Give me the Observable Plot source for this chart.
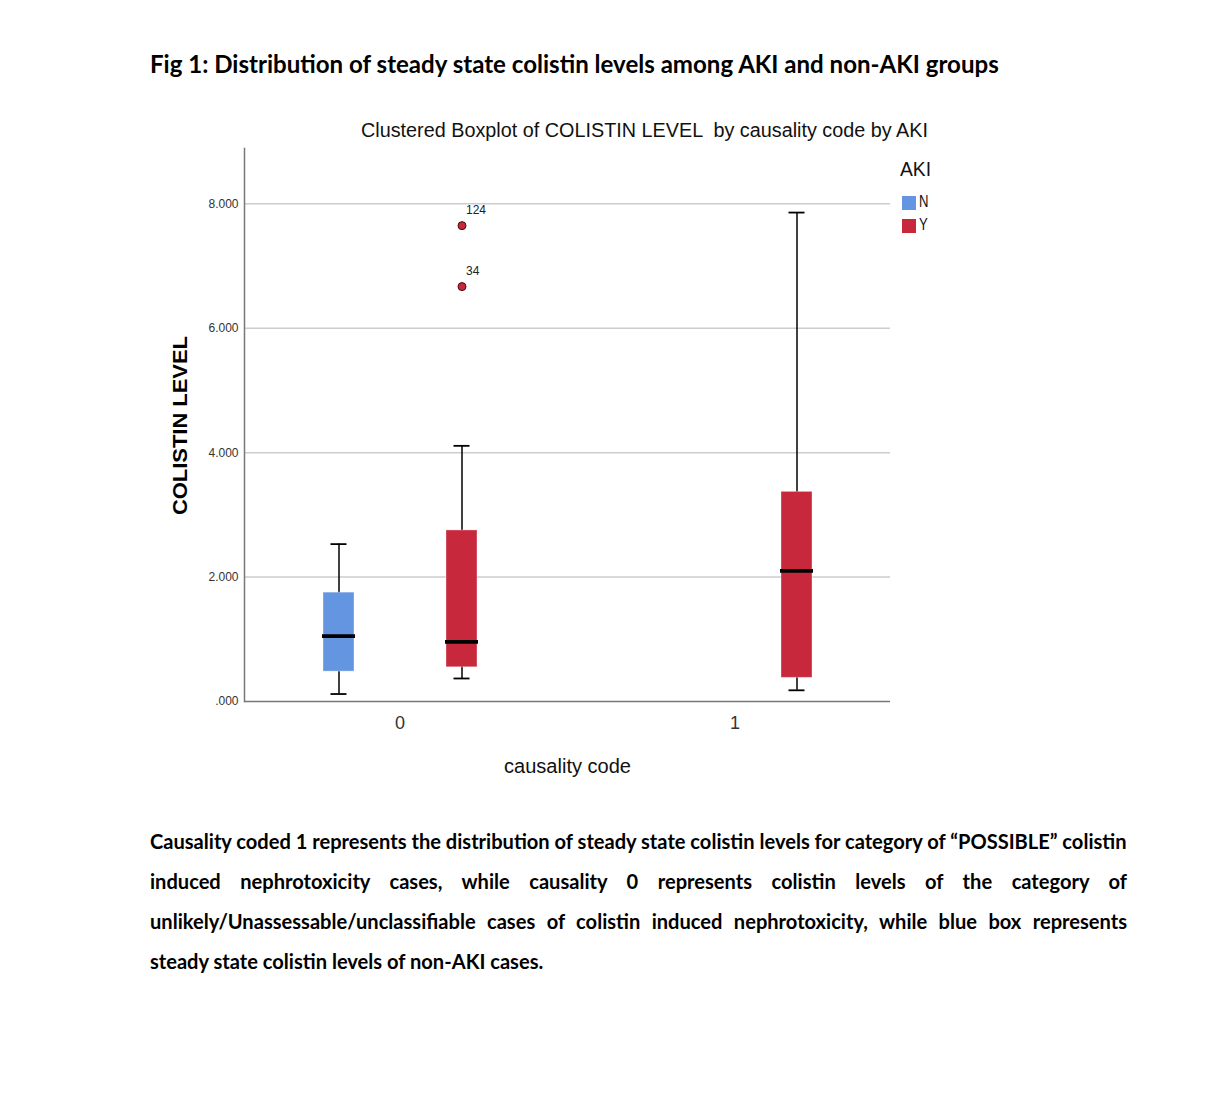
<!DOCTYPE html>
<html><head><meta charset="utf-8">
<script src="https://cdn.jsdelivr.net/npm/d3@7"></script>
<script src="https://cdn.jsdelivr.net/npm/@observablehq/plot@0.6"></script>
<style>
body{margin:0;background:#fff;}
#page{position:relative;width:1219px;height:1103px;overflow:hidden;background:#fff;}
.abs{position:absolute;white-space:pre;line-height:1;color:#000;}
.narrow{font-family:"Liberation Sans",Arial,sans-serif;color:#111;}
.cal{font-family:Lato,"Open Sans",sans-serif;font-weight:700;}
.arialb{font-family:"Liberation Sans",Arial,sans-serif;font-weight:700;}
.sw{position:absolute;width:14px;height:14px;}
#chart{position:absolute;left:0;top:100px;}
</style></head><body><div id="page">
<div id="fig" class="abs cal" style="font-size:22px">Fig 1: Distribution of steady state colistin levels among AKI and non-AKI groups</div>
<div id="ctitle" class="abs narrow" style="font-size:20px">Clustered Boxplot of COLISTIN LEVEL  by causality code by AKI</div>
<div id="xlab" class="abs narrow" style="font-size:20px">causality code</div>
<div id="ylab" class="abs arialb" style="font-size:21px">COLISTIN LEVEL</div>
<div id="legT" class="abs narrow" style="font-size:21px">AKI</div>
<div id="legN" class="abs narrow" style="font-size:16px">N</div>
<div id="legY" class="abs narrow" style="font-size:16px">Y</div>
<div id="swN" class="sw" style="left:902px;top:196px"></div>
<div id="swY" class="sw" style="left:902px;top:219px"></div>
<div id="chart"></div>
<div id="cap1" class="abs cal" style="font-size:19px">Causality coded 1 represents the distribution of steady state colistin levels for category of “POSSIBLE” colistin</div>
<div id="cap2" class="abs cal" style="font-size:19px">induced nephrotoxicity cases, while causality 0 represents colistin levels of the category of</div>
<div id="cap3" class="abs cal" style="font-size:19px">unlikely/Unassessable/unclassifiable cases of colistin induced nephrotoxicity, while blue box represents</div>
<div id="cap4" class="abs cal" style="font-size:19px">steady state colistin levels of non-AKI cases.</div>
</div>
<script>
// ---- data ----
const causalityCodes = ["0", "1"];
const akiGroups = ["N", "Y"];
const causality = ["0", "0", "1"];
const aki = ["N", "Y", "Y"];
const whiskerLow = [0.12, 0.37, 0.18];
const q1 = [0.48, 0.55, 0.38];
const median = [1.05, 0.96, 2.10];
const q3 = [1.75, 2.75, 3.37];
const whiskerHigh = [2.53, 4.11, 7.86];
const outlierCausality = ["0", "0"];
const outlierAki = ["Y", "Y"];
const outlierValue = [7.65, 6.67];
const outlierCase = ["124", "34"];
const yTicks = [0, 2, 4, 6, 8];
const gridTicks = [2, 4, 6, 8];

const akiColors = ["#6495e0", "#c8283c"];

const boxes = causality.map((c, i) => ({causality: c, aki: aki[i], lo: whiskerLow[i], q1: q1[i], med: median[i], q3: q3[i], hi: whiskerHigh[i]}));
const outliers = outlierValue.map((v, i) => ({causality: outlierCausality[i], aki: outlierAki[i], value: v, label: outlierCase[i]}));
const gridRows = causalityCodes.flatMap(c => gridTicks.map(v => ({causality: c, v})));
const baseRows = causalityCodes.map(c => ({causality: c, v: 0}));

const sansFont = '"Liberation Sans",Arial,sans-serif';
const gridStyle = {stroke: "#cdcdcd", strokeWidth: 1.5};
const baseStyle = {stroke: "#777", strokeWidth: 1.5};

const chart = Plot.plot({
  width: 1219, height: 701,
  marginLeft: 243, marginRight: 328, marginTop: 48, marginBottom: 100,
  style: {fontFamily: sansFont, background: "transparent", overflow: "visible"},
  fx: {domain: causalityCodes, paddingInner: 0.0714, paddingOuter: 0, label: null},
  x: {domain: akiGroups, paddingInner: 0.75, paddingOuter: 0.633, axis: null},
  y: {domain: [0, 8.89], axis: null},
  color: {domain: akiGroups, range: akiColors},
  marks: [
    Plot.ruleY(gridRows.filter(d => d.causality === causalityCodes[0]), {fx: "causality", y: "v", insetRight: -12, ...gridStyle}),
    Plot.ruleY(gridRows.filter(d => d.causality === causalityCodes[1]), {fx: "causality", y: "v", insetLeft: -12, ...gridStyle}),
    Plot.axisY(yTicks, {tickSize: 0, tickPadding: 6, tickFormat: d => d === 0 ? ".000" : d3.format(".3f")(d),
      fontSize: 12, fill: "#333", label: null}),
    Plot.axisFx({anchor: "bottom", tickSize: 0, tickPadding: 15, fontSize: 18, fill: "#333", label: null}),
    Plot.ruleY(baseRows.filter(d => d.causality === causalityCodes[0]), {fx: "causality", y: "v", insetRight: -12, ...baseStyle}),
    Plot.ruleY(baseRows.filter(d => d.causality === causalityCodes[1]), {fx: "causality", y: "v", insetLeft: -12, ...baseStyle}),
    Plot.frame({anchor: "left", facet: "super", ...baseStyle}),
    Plot.ruleX(boxes, {fx: "causality", x: "aki", y1: "lo", y2: "hi", stroke: "#000", strokeWidth: 1.5}),
    Plot.barY(boxes, {fx: "causality", x: "aki", y1: "q1", y2: "q3", fill: "aki", stroke: "#fff", strokeOpacity: 0.35, strokeWidth: 1}),
    Plot.tickY(boxes, {fx: "causality", x: "aki", y: "med", stroke: "#000", strokeWidth: 3.8, insetLeft: -1, insetRight: -1}),
    Plot.tickY(boxes, {fx: "causality", x: "aki", y: "lo", stroke: "#000", strokeWidth: 1.8, insetLeft: 7.5, insetRight: 7.5}),
    Plot.tickY(boxes, {fx: "causality", x: "aki", y: "hi", stroke: "#000", strokeWidth: 1.8, insetLeft: 7.5, insetRight: 7.5}),
    Plot.dot(outliers, {fx: "causality", x: "aki", y: "value", r: 4, fill: "aki", stroke: "#4a0a0a", strokeWidth: 1}),
    Plot.text(outliers, {fx: "causality", x: "aki", y: "value", text: "label", textAnchor: "start", dx: 4, dy: -15.5, fontSize: 12, fill: "#222"})
  ]
});
document.getElementById("chart").appendChild(chart);
document.getElementById("swN").style.background = akiColors[0];
document.getElementById("swY").style.background = akiColors[1];

// horizontally compress a text to a target width (narrow-font look), keep font size
function squeeze(id, left, cy, target, ratio) {
  const el = document.getElementById(id);
  el.style.transform = "none";
  const r = el.getBoundingClientRect();
  const k = target ? target / r.width : ratio;
  const s = parseFloat(getComputedStyle(el).fontSize);
  el.style.left = left + "px";
  el.style.top = (cy - 0.55 * s) + "px";
  el.style.transformOrigin = "0 50%";
  el.style.transform = `scaleX(${k})`;
}
// scale font size to a target width
function fitSize(id, left, cy, target) {
  const el = document.getElementById(id);
  el.style.fontSize = el.dataset.base || (el.dataset.base = getComputedStyle(el).fontSize);
  const w = el.getBoundingClientRect().width;
  let s = parseFloat(getComputedStyle(el).fontSize);
  s = s * target / w;
  el.style.fontSize = s + "px";
  el.style.left = left + "px";
  el.style.top = (cy - 0.55 * s) + "px";
  return s;
}
function layout() {
  fitSize("fig", 150, 65, 849);
  squeeze("ctitle", 361, 131, 567);
  squeeze("xlab", 504, 767, 127);
  squeeze("legT", 900, 170, 31);
  squeeze("legN", 919, 203, 0, 0.82);
  squeeze("legY", 919, 226, 0, 0.82);
  const yl = document.getElementById("ylab");
  yl.style.transform = "none";
  const r = yl.getBoundingClientRect();
  yl.style.left = (180 - r.width / 2) + "px";
  yl.style.top = (425 - r.height / 2) + "px";
  yl.style.transformOrigin = "50% 50%";
  yl.style.transform = `rotate(-90deg) scaleX(${179 / r.width})`;
  const s = fitSize("cap1", 150, 842, 977);
  const centers = [882, 922, 962];
  ["cap2", "cap3", "cap4"].forEach((id, i) => {
    const el = document.getElementById(id);
    el.style.fontSize = s + "px";
    el.style.left = "150px";
    el.style.top = (centers[i] - 0.55 * s) + "px";
    if (id !== "cap4") {
      el.style.width = "977px";
      el.style.whiteSpace = "normal";
      el.style.textAlign = "justify";
      el.style.textAlignLast = "justify";
    }
  });
}
layout();
if (document.fonts && document.fonts.ready) document.fonts.ready.then(layout);
</script>
</body></html>
